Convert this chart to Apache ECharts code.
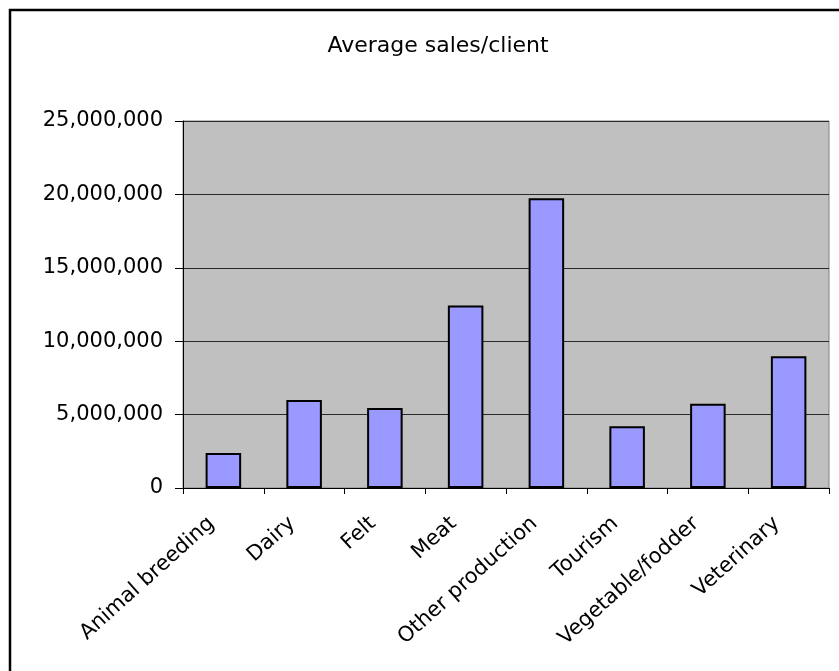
<!DOCTYPE html>
<html>
<head>
<meta charset="utf-8">
<script src="https://cdn.jsdelivr.net/npm/echarts@6/dist/echarts.min.js"></script>
<style>
  html, body { margin: 0; padding: 0; background: #ffffff; }
  #chart { width: 839px; height: 671px; }
</style>
</head>
<body>
<div id="chart"></div>
<script>
// Average sales per client, by activity
const categories = [
  'Animal breeding', 'Dairy', 'Felt', 'Meat',
  'Other production', 'Tourism', 'Vegetable/fodder', 'Veterinary'
];
const salesPerClient = [2380000, 6000000, 5450000, 12440000, 19730000, 4200000, 5740000, 8970000];
const yTicks = { min: 0, max: 25000000, interval: 5000000 };
const titleText = 'Average sales/client';

const FONT = 'DejaVu Sans';

const chart = echarts.init(document.getElementById('chart'), null, { renderer: 'canvas' });

chart.setOption({
  animation: false,
  backgroundColor: '#ffffff',
  title: {
    text: titleText,
    left: 433,
    top: 30,
    textAlign: 'center',
    textStyle: { fontFamily: FONT, fontSize: 22, fontWeight: 'normal', color: '#000000' }
  },
  // outer chart frame
  graphic: [{
    type: 'rect',
    shape: { x: 10, y: 10, width: 900, height: 800 },
    style: { fill: 'none', stroke: '#000000', lineWidth: 2.5 },
    z: 100
  }],
  grid: {
    left: 183,
    right: 10,
    top: 121,
    bottom: 183,
    show: true,
    backgroundColor: '#c0c0c0',
    borderColor: '#808080',
    borderWidth: 1
  },
  xAxis: {
    type: 'category',
    data: categories,
    boundaryGap: true,
    axisLine: { show: true, lineStyle: { color: '#000000', width: 1 } },
    axisTick: { show: true, alignWithLabel: false, length: 6, lineStyle: { color: '#000000' } },
    axisLabel: {
      interval: 0,
      rotate: 42,
      margin: 22,
      padding: [0, 16, 0, 0],
      fontFamily: FONT,
      fontSize: 21,
      color: '#000000'
    },
    splitLine: { show: false }
  },
  yAxis: {
    type: 'value',
    min: yTicks.min,
    max: yTicks.max,
    interval: yTicks.interval,
    axisLine: { show: true, lineStyle: { color: '#000000', width: 1 } },
    axisTick: { show: true, inside: false, length: 8, lineStyle: { color: '#000000' } },
    axisLabel: {
      margin: 20,
      fontFamily: FONT,
      fontSize: 21,
      color: '#000000',
      formatter: v => v.toLocaleString('en-US')
    },
    splitLine: { show: true, lineStyle: { color: '#2a2a2a', width: 1 } }
  },
  series: [{
    type: 'bar',
    data: salesPerClient,
    barWidth: '44%',
    itemStyle: { color: '#9999ff', borderColor: '#000000', borderWidth: 2 }
  }]
});
</script>
</body>
</html>
